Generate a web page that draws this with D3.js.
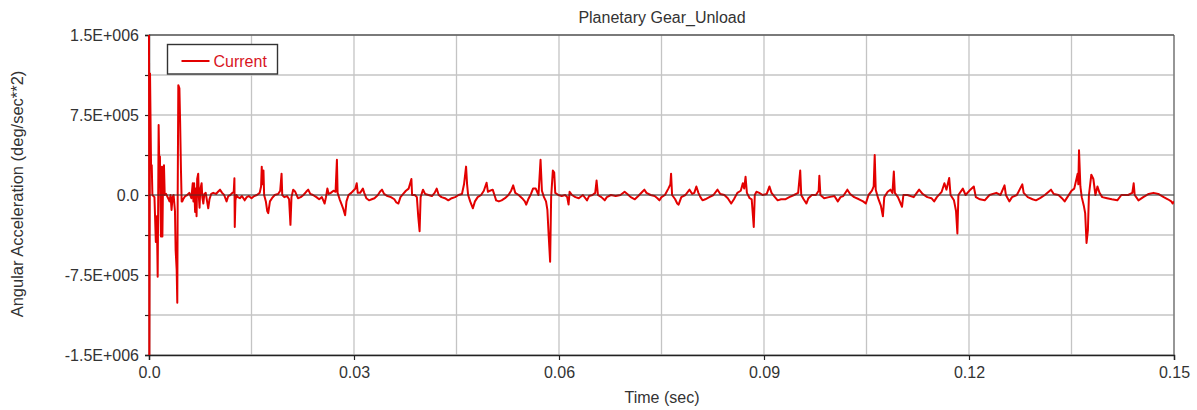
<!DOCTYPE html>
<html>
<head>
<meta charset="utf-8">
<script src="https://cdn.jsdelivr.net/npm/d3@7"></script>
<style>
  html, body { margin: 0; padding: 0; background: #fff; }
  svg { display: block; font-family: "Liberation Sans", Arial, sans-serif; }
</style>
</head>
<body>
<svg id="chart" width="1197" height="410"></svg>
<script>
// Planetary Gear_Unload — angular acceleration trace.
// Time in ms, acceleration in deg/sec^2.
var TRACE = [
  [0, 1600000], [0.05, -1600000], [0.15, 1140000], [0.3, 280000], [0.4, 280000], [0.5, 0],
  [0.8, -20000], [1.0, -440000], [1.15, -200000], [1.27, -766000], [1.35, 0], [1.41, 656000],
  [1.5, 300000], [1.6, 360000], [1.68, -100000], [1.75, -390000], [1.82, 100000], [1.9, 266000],
  [1.96, -390000], [2.05, 100000], [2.19, 280000], [2.3, 0], [2.5, 10000], [2.8, -30000],
  [3.0, -60000], [3.15, 0], [3.3, -140000], [3.45, -20000], [3.6, 0], [3.8, -150000],
  [3.9, -520000], [4.05, -700000], [4.14, -1010000], [4.2, 0], [4.29, 1030000], [4.45, 1000000],
  [4.55, 700000], [4.68, 230000], [4.78, -60000], [4.87, -60000], [5.0, -40000], [5.3, -10000],
  [5.6, 0], [5.9, 20000], [6.2, -30000], [6.4, 110000], [6.5, -60000], [6.6, 110000],
  [6.75, -160000], [6.85, 60000], [6.96, -200000], [7.05, 150000], [7.2, 200000], [7.3, -20000],
  [7.4, -120000], [7.5, 50000], [7.7, 110000], [7.8, -20000], [7.95, -80000], [8.1, 10000],
  [8.3, 20000], [8.5, -60000], [8.67, -125000], [8.85, -40000], [9.1, 10000], [9.4, 20000],
  [9.8, 10000], [10.1, 30000], [10.4, 50000], [10.7, 20000], [11.0, 0], [11.35, -60000],
  [11.6, -10000], [11.9, 0], [12.2, 20000], [12.4, 30000], [12.5, 156000], [12.55, -300000],
  [12.65, -50000], [12.8, 0], [13.0, -20000], [13.3, -30000], [13.6, -10000], [14.0, -50000],
  [14.3, -20000], [14.6, -10000], [15.0, -30000], [15.4, -10000], [15.8, 0], [16.2, 20000],
  [16.4, 80000], [16.5, 266000], [16.6, 100000], [16.75, 230000], [16.85, 0], [17.1, -60000],
  [17.3, -150000], [17.45, -170000], [17.7, -60000], [18.0, -30000], [18.4, 0], [18.9, 10000],
  [19.2, 40000], [19.4, 200000], [19.5, 0], [19.8, -20000], [20.2, -10000], [20.5, -40000],
  [20.7, -280000], [20.85, -20000], [21.1, 50000], [21.4, 30000], [21.8, -30000], [22.2, -20000],
  [22.6, 0], [23.0, 30000], [23.3, 50000], [23.6, 10000], [24.0, 0], [24.5, -20000],
  [24.9, -40000], [25.3, -20000], [25.7, -80000], [25.9, -20000], [26.1, 60000], [26.3, 10000],
  [26.6, 20000], [27.0, 40000], [27.3, 30000], [27.5, 330000], [27.6, 20000], [27.9, -40000],
  [28.2, -90000], [28.4, -125000], [28.7, -190000], [28.9, -60000], [29.2, 0], [29.6, 20000],
  [29.9, 40000], [30.2, 60000], [30.4, 110000], [30.55, 20000], [30.9, 20000], [31.3, 60000],
  [31.5, 20000], [31.8, -30000], [32.2, -50000], [32.6, -40000], [33.0, -30000], [33.5, 0],
  [33.8, 30000], [34.1, 50000], [34.4, 10000], [34.9, -10000], [35.4, -20000], [35.9, -40000],
  [36.2, -70000], [36.5, -80000], [36.8, -20000], [37.2, 10000], [37.6, 40000], [38.0, 60000],
  [38.4, 150000], [38.5, 0], [38.9, 0], [39.2, -20000], [39.4, -200000], [39.6, -340000],
  [39.75, -20000], [40.1, 50000], [40.4, 10000], [40.9, 0], [41.4, -10000], [41.8, 20000],
  [42.1, 60000], [42.4, 0], [42.8, -20000], [43.3, -30000], [43.8, -50000], [44.3, -30000],
  [44.8, -20000], [45.3, 0], [45.8, 10000], [46.1, 100000], [46.4, 266000], [46.55, 100000],
  [46.7, 0], [47.0, -60000], [47.4, -125000], [47.7, -60000], [48.1, -20000], [48.6, 0],
  [49.0, 40000], [49.4, 115000], [49.6, 30000], [49.9, 40000], [50.3, 50000], [50.6, -10000],
  [50.8, -50000], [51.2, -60000], [51.6, -50000], [52.1, -30000], [52.6, 0], [53.0, 40000],
  [53.3, 90000], [53.6, 20000], [54.1, 0], [54.6, -30000], [55.0, -60000], [55.2, -90000],
  [55.5, -40000], [55.9, 10000], [56.2, 60000], [56.6, 60000], [57.0, 0], [57.3, 330000],
  [57.5, 40000], [57.8, -20000], [58.1, -60000], [58.3, -140000], [58.5, -390000], [58.7, -625000],
  [58.85, -20000], [59.1, 230000], [59.3, 210000], [59.45, 20000], [59.9, 0], [60.4, -10000],
  [60.9, 0], [61.2, -20000], [61.4, -90000], [61.55, 30000], [61.9, 0], [62.4, -20000],
  [62.9, -30000], [63.5, 0], [64.1, -50000], [64.4, -10000], [64.9, 0], [65.3, 20000],
  [65.5, 135000], [65.7, 0], [66.2, -20000], [66.7, -50000], [67.0, -20000], [67.6, 0],
  [68.3, -10000], [69.0, 0], [69.6, 30000], [70.0, 10000], [70.5, -20000], [71.1, -40000],
  [71.6, -10000], [72.2, 30000], [72.5, 50000], [72.8, 20000], [73.4, 0], [74.0, -10000],
  [74.4, -30000], [74.7, -50000], [75.0, -20000], [75.5, 0], [76.0, 60000], [76.3, 100000],
  [76.4, 200000], [76.55, 0], [77.0, -40000], [77.3, -80000], [77.5, -90000], [77.9, -20000],
  [78.5, 0], [79.1, 50000], [79.5, 10000], [79.8, 20000], [80.1, 80000], [80.4, 20000],
  [80.7, -20000], [81.0, -50000], [81.4, -40000], [82.0, -20000], [82.6, 0], [83.2, 50000],
  [83.6, 10000], [84.2, 0], [84.7, -30000], [85.2, -80000], [85.6, -40000], [86.1, 20000],
  [86.6, 40000], [86.9, 110000], [87.1, 60000], [87.3, 170000], [87.5, 20000], [87.9, -30000],
  [88.2, -40000], [88.5, -300000], [88.65, 0], [88.9, 30000], [89.3, 20000], [89.8, 0],
  [90.4, 10000], [90.8, 80000], [91.1, 20000], [91.6, -20000], [92.0, -50000], [92.5, -40000],
  [93.1, -40000], [93.7, -20000], [94.4, 0], [95.0, 20000], [95.3, 230000], [95.45, 0],
  [95.8, -40000], [96.2, -80000], [96.5, -30000], [97.0, 0], [97.6, 0], [98.0, 40000],
  [98.1, 180000], [98.25, 0], [98.8, -30000], [99.5, -20000], [100.3, -10000], [100.8, -60000],
  [101.2, -20000], [101.6, -10000], [102.2, 50000], [102.6, 10000], [103.2, -20000], [103.9, -40000],
  [104.5, -60000], [104.9, -80000], [105.3, 0], [105.8, 40000], [106.05, 80000], [106.2, 375000],
  [106.35, 50000], [106.7, -30000], [107.1, -100000], [107.4, -200000], [107.6, -20000], [108.1, 30000],
  [108.5, 50000], [108.8, 20000], [109.0, 220000], [109.15, 20000], [109.6, -20000], [110.2, -110000],
  [110.4, 0], [111.0, 0], [111.9, -20000], [112.7, 50000], [113.2, 10000], [113.9, -20000],
  [114.5, -30000], [114.9, -60000], [115.3, -20000], [116.0, 30000], [116.4, 110000], [116.7, 50000],
  [117.1, 160000], [117.3, 0], [117.8, -50000], [118.1, -150000], [118.3, -360000], [118.45, 0],
  [119.1, 60000], [119.5, 0], [120.2, 50000], [120.7, 80000], [121.0, -20000], [121.6, -40000],
  [122.3, -50000], [123.0, 0], [124.0, 20000], [124.6, 0], [125.2, 90000], [125.4, 0],
  [125.9, -60000], [126.3, -20000], [127.0, 0], [127.8, 100000], [128.0, 20000], [128.6, -20000],
  [129.3, -40000], [129.8, -50000], [130.4, -30000], [131.1, 0], [132.0, 50000], [132.4, 10000],
  [133.1, 0], [133.6, -30000], [134.0, -60000], [134.4, -20000], [135.0, 40000], [135.4, 60000],
  [135.9, 200000], [136.0, 100000], [136.1, 420000], [136.3, 80000], [136.5, -20000], [136.8, -100000],
  [137.0, -170000], [137.2, -450000], [137.4, -330000], [137.55, 0], [137.9, 190000], [138.2, 150000],
  [138.5, 0], [138.8, 80000], [139.1, 20000], [139.5, -20000], [140.2, -30000], [140.9, -40000],
  [141.7, -50000], [142.3, 0], [143.3, 0], [143.9, 20000], [144.1, 110000], [144.25, 0],
  [144.8, -50000], [145.5, -20000], [146.3, 10000], [147.0, 20000], [147.7, 10000], [148.5, -20000],
  [149.1, -40000], [149.6, -60000], [149.8, -80000], [150, -60000]
];

var X_GRID = [0, 0.015, 0.03, 0.045, 0.06, 0.075, 0.09, 0.105, 0.12, 0.135, 0.15];
var X_TICKS = [0, 0.03, 0.06, 0.09, 0.12, 0.15];
var X_TICK_LABELS = ["0.0", "0.03", "0.06", "0.09", "0.12", "0.15"];
var Y_GRID = [-1500000, -1125000, -750000, -375000, 0, 375000, 750000, 1125000, 1500000];
var Y_TICKS = [-1500000, -750000, 0, 750000, 1500000];
var Y_TICK_LABELS = ["-1.5E+006", "-7.5E+005", "0.0", "7.5E+005", "1.5E+006"];

var TITLE = "Planetary Gear_Unload";
var X_TITLE = "Time (sec)";
var Y_TITLE = "Angular Acceleration (deg/sec**2)";
var SERIES_NAME = "Current";

var C = { line: "#e30000", legendText: "#d8141e", grid: "#c4c4c4", axis: "#222", text: "#333" };

var W = 1197, H = 410;
var m = { top: 35, right: 23, bottom: 55, left: 149 };
var pw = W - m.left - m.right, ph = H - m.top - m.bottom;

var svg = d3.select("#chart");
var x = d3.scaleLinear().domain([0, 0.15]).range([0, pw]);
var y = d3.scaleLinear().domain([-1500000, 1500000]).range([ph, 0]);

var g = svg.append("g").attr("transform", "translate(" + m.left + "," + m.top + ")");

// clip a hair wider on the left so the t=0 spike sits on the axis line
g.append("clipPath").attr("id", "plot-clip")
  .append("rect").attr("x", -1.5).attr("width", pw + 1.5).attr("height", ph);

// grid
g.append("g").selectAll("line").data(X_GRID).join("line")
  .attr("x1", function (d) { return x(d); }).attr("x2", function (d) { return x(d); })
  .attr("y1", 0).attr("y2", ph)
  .attr("stroke", C.grid).attr("stroke-width", 1.3);
g.append("g").selectAll("line").data(Y_GRID).join("line")
  .attr("x1", 0).attr("x2", pw)
  .attr("y1", function (d) { return y(d); }).attr("y2", function (d) { return y(d); })
  .attr("stroke", C.grid).attr("stroke-width", 1.3);

// frame: top + right
g.append("line").attr("x1", 0).attr("x2", pw).attr("y1", 0).attr("y2", 0)
  .attr("stroke", C.axis).attr("stroke-width", 1.2);
g.append("line").attr("x1", pw).attr("x2", pw).attr("y1", 0).attr("y2", ph)
  .attr("stroke", "#555").attr("stroke-width", 1);

// axes
var yAxis = d3.axisLeft(y).tickValues(Y_GRID).tickSize(4).tickPadding(6)
  .tickFormat(function (d) { var i = Y_TICKS.indexOf(d); return i < 0 ? "" : Y_TICK_LABELS[i]; });
var ya = g.append("g").call(yAxis);
var xAxis = d3.axisBottom(x).tickValues(X_TICKS).tickSize(5).tickPadding(7)
  .tickFormat(function (d, i) { return X_TICK_LABELS[i]; });
var xa = g.append("g").attr("transform", "translate(0," + ph + ")").call(xAxis);

[ya, xa].forEach(function (a) {
  a.select(".domain").attr("stroke", C.axis).attr("stroke-width", 1.4);
  a.selectAll(".tick line").attr("stroke", C.axis).attr("stroke-width", 1.2);
  a.selectAll("text").attr("fill", C.text).attr("font-size", 16)
    .attr("font-family", "'Liberation Sans', Arial, sans-serif");
});

// trace
var line = d3.line()
  .x(function (d) { return x(d[0] / 1000); })
  .y(function (d) { return y(d[1]); });
g.append("path").datum(TRACE)
  .attr("clip-path", "url(#plot-clip)")
  .attr("d", line)
  .attr("fill", "none")
  .attr("stroke", C.line)
  .attr("stroke-width", 2)
  .attr("stroke-linejoin", "round");

// zero line
g.append("line").attr("x1", 0).attr("x2", pw).attr("y1", y(0)).attr("y2", y(0))
  .attr("stroke", "#333").attr("stroke-width", 0.8);

// titles
svg.append("text").attr("x", 662).attr("y", 23).attr("text-anchor", "middle")
  .attr("font-size", 16).attr("fill", C.text).text(TITLE);
svg.append("text").attr("x", 662).attr("y", 403).attr("text-anchor", "middle")
  .attr("font-size", 16).attr("fill", C.text).text(X_TITLE);
svg.append("text").attr("transform", "translate(23,194) rotate(-90)").attr("text-anchor", "middle")
  .attr("font-size", 16.5).attr("fill", C.text).text(Y_TITLE);

// legend
var lg = svg.append("g").attr("transform", "translate(167.5,44.5)");
lg.append("rect").attr("width", 110).attr("height", 29.5)
  .attr("fill", "#fff").attr("stroke", "#333").attr("stroke-width", 1.4);
lg.append("line").attr("x1", 14).attr("x2", 42).attr("y1", 16.5).attr("y2", 16.5)
  .attr("stroke", C.line).attr("stroke-width", 2);
lg.append("text").attr("x", 46).attr("y", 22).attr("font-size", 16)
  .attr("fill", C.legendText).text(SERIES_NAME);
</script>
</body>
</html>
